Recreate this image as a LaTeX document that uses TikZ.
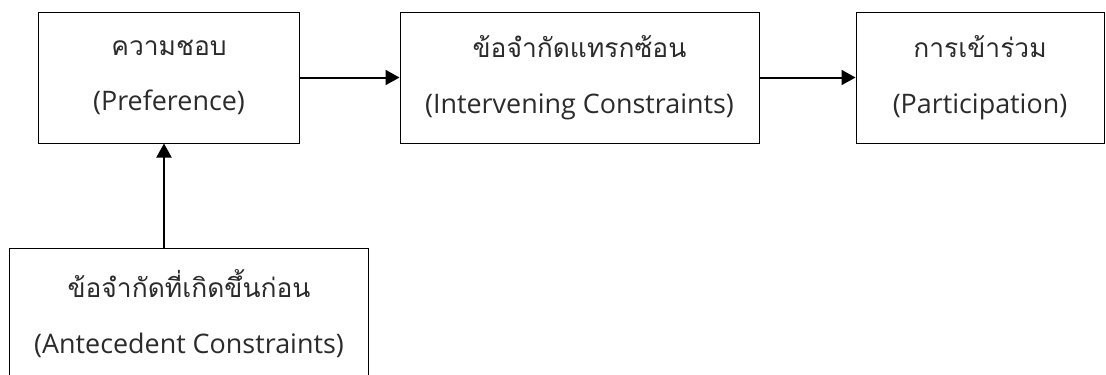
\documentclass[tikz,border=0pt]{standalone}
\usepackage{fontspec}
\usetikzlibrary{arrows.meta}
\setmainfont{Open Sans}
\newfontfamily\thaifont[Script=Thai]{Loma}
\definecolor{textgray}{HTML}{2B2B2B}

\tikzset{
  box/.style={draw=black, line width=1bp, minimum height=131bp,
    inner sep=0pt, align=center, text=textgray,
    font=\fontsize{27}{56}\selectfont},
  arr/.style={-{Triangle[length=14bp,width=15bp]}, line width=2bp}
}
\newcommand{\thl}[1]{{\thaifont\fontsize{26.5}{56}\selectfont #1}}

\begin{document}
\begin{tikzpicture}[x=1bp,y=-1bp]
				\useasboundingbox (0,0) rectangle (1106,374);
				\clip (0,0) rectangle (1106,374);

				\node[box, minimum width=260bp] (pref) at (169,77.5) {\thl{ความชอบ}\\(Preference)};
				\node[box, minimum width=359bp] (interv) at (579.5,77.5) {\thl{ข้อจำกัดแทรกซ้อน}\\(Intervening Constraints)};
				\node[box, minimum width=248bp] (partic) at (980,77.5) {\thl{การเข้าร่วม}\\(Participation)};
				\node[box, minimum width=358bp] (ante) at (189,314) {\thl{ข้อจำกัดที่เกิดขึ้นก่อน}\\(Antecedent Constraints)};

				\draw[arr] (pref) -- (interv);
				\draw[arr] (interv) -- (partic);
				\draw[arr] ([xshift=-5bp]pref.south |- ante.north) -- ([xshift=-5bp]pref.south);
			\end{tikzpicture}
\end{document}
